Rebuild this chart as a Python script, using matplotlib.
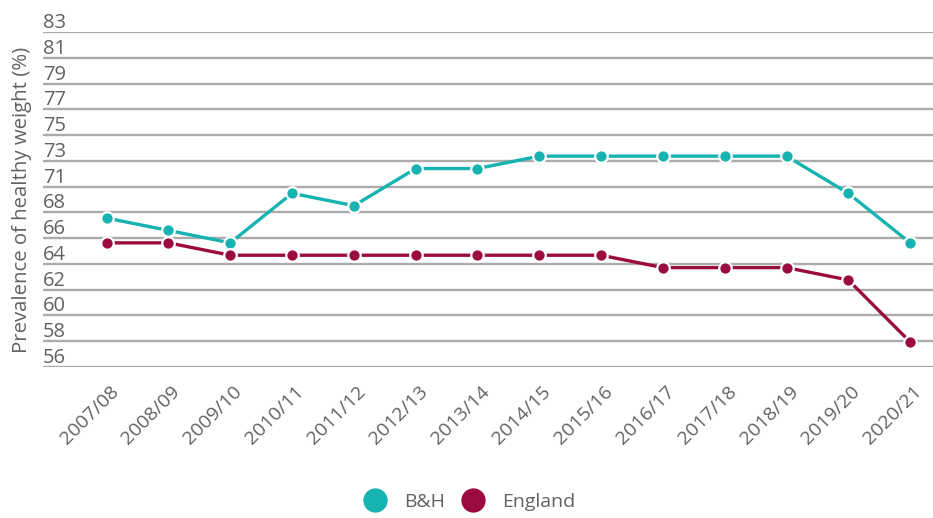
import matplotlib
matplotlib.use("Agg")
import matplotlib.pyplot as plt
import numpy as np
from matplotlib.lines import Line2D
from matplotlib.transforms import ScaledTranslation

years = ["2007/08", "2008/09", "2009/10", "2010/11", "2011/12", "2012/13", "2013/14",
         "2014/15", "2015/16", "2016/17", "2017/18", "2018/19", "2019/20", "2020/21"]
bh = [68, 67, 66, 70, 69, 72, 72, 73, 73, 73, 73, 73, 70, 66]
england = [66, 66, 65, 65, 65, 65, 65, 65, 65, 64, 64, 64, 63, 58]
ytick_labels = ["56", "58", "60", "62", "64", "66", "68", "71", "73", "75", "77", "79", "81", "83"]
ymin, ymax = 56, 83

teal = "#17b3b0"
maroon = "#9b0b40"
txt = "#626262"

plt.rcParams['font.family'] = ['Open Sans', 'DejaVu Sans']

fig = plt.figure(figsize=(9.33, 5.18), dpi=100)
ax = fig.add_axes([43 / 933, 1 - 366.7 / 518, 890 / 933, (366.7 - 32.3) / 518])

x = np.arange(len(years))
for vals, col in [(bh, teal), (england, maroon)]:
    ax.plot(x, vals, color=col, lw=2.4, marker='o', ms=9, mfc=col,
            mec='white', mew=1.6, zorder=3, solid_capstyle='butt')

ax.set_xlim(-1.03, len(years) - 1 + 0.37)
ax.set_ylim(ymin, ymax)

yt = np.linspace(ymin, ymax, len(ytick_labels))
ax.set_yticks(yt)
ax.set_yticklabels(ytick_labels)
ax.yaxis.grid(True, color="#ababab", lw=1.7)
ax.set_axisbelow(True)
ax.tick_params(axis='y', length=0, pad=0, labelsize=14.5, labelcolor=txt)
for t in ax.get_yticklabels():
    t.set_ha('left')
    t.set_va('bottom')
    t.set_transform(t.get_transform() + ScaledTranslation(0, -1 / 100, fig.dpi_scale_trans))

ax.set_xticks(x)
ax.set_xticklabels(years)
ax.tick_params(axis='x', length=0, pad=16, labelsize=14, labelcolor=txt)
for t in ax.get_xticklabels():
    t.set_rotation(45)
    t.set_ha('right')
    t.set_va('center')
    t.set_rotation_mode('anchor')
    t.set_transform(t.get_transform() + ScaledTranslation(9 / 100, 0, fig.dpi_scale_trans))

for s in ax.spines.values():
    s.set_visible(False)

ax.set_ylabel("Prevalence of healthy weight (%)", fontsize=14.7, color=txt)
ax.yaxis.set_label_coords(-11 / 890, 0.5)

handles = [Line2D([], [], ls='none', marker='o', ms=17.5, mfc=teal, mec=teal, mew=0),
           Line2D([], [], ls='none', marker='o', ms=17.5, mfc=maroon, mec=maroon, mew=0)]
fig.legend(handles, ["B&H", "England"], loc='center', bbox_to_anchor=(0.503, 1 - 502 / 518),
           ncol=2, frameon=False, fontsize=14, labelcolor=txt,
           handlelength=1.2, handletextpad=0.9, columnspacing=0.8)

fig.savefig("out.png", dpi=100)
